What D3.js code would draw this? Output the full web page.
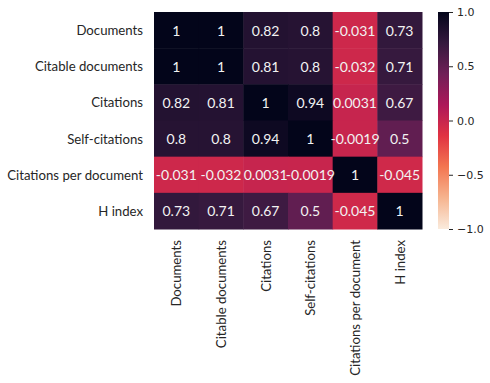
<!DOCTYPE html>
<html><head><meta charset="utf-8">
<script src="https://cdn.jsdelivr.net/npm/d3@7"></script>
<style>body{margin:0;background:#fff}</style>
</head><body>
<svg id="c" width="490" height="383"></svg>
<script>
const labels = ["Documents","Citable documents","Citations","Self-citations","Citations per document","H index"];
const annot = [
  ["1","1","0.82","0.8","-0.031","0.73"],
  ["1","1","0.81","0.8","-0.032","0.71"],
  ["0.82","0.81","1","0.94","0.0031","0.67"],
  ["0.8","0.8","0.94","1","-0.0019","0.5"],
  ["-0.031","-0.032","0.0031","-0.0019","1","-0.045"],
  ["0.73","0.71","0.67","0.5","-0.045","1"]
];
const values = annot.map(r => r.map(Number));
const cbarTicks = [1.0, 0.5, 0.0, -0.5, -1.0];
// rocket_r colour stops
const rocketStops = ["#faebdd","#f6b48f","#f37651","#e13342","#ad1759","#701f57","#35193e","#03051a"];
const stopPos = [0, 1/7, 2/7, 3/7, 4/7, 5/7, 6/7, 1];

const color = d3.scaleLinear().domain(stopPos.map(p => -1 + 2*p)).range(rocketStops).interpolate(d3.interpolateRgb).clamp(true);

const svg = d3.select("#c");
const L = 154, R = 422, T = 12, B = 229;
const x = d3.scaleBand().domain(d3.range(6)).range([L, R]);
const y = d3.scaleBand().domain(d3.range(6)).range([T, B]);
const font = "Lato, 'Open Sans', sans-serif";

const cells = [];
values.forEach((row,i)=>row.forEach((v,j)=>cells.push({i,j,v,t:annot[i][j]})));
svg.append("g").selectAll("rect").data(cells).join("rect")
  .attr("x", d=>x(d.j)).attr("y", d=>y(d.i))
  .attr("width", x.bandwidth()+0.5).attr("height", y.bandwidth()+0.5)
  .attr("fill", d=>color(d.v));
svg.append("g").selectAll("text").data(cells).join("text")
  .attr("x", d=>x(d.j)+x.bandwidth()/2).attr("y", d=>y(d.i)+y.bandwidth()/2)
  .attr("text-anchor","middle").attr("dominant-baseline","central")
  .attr("fill","#f2f2f2").style("font-family",font).style("font-size","14px")
  .text(d=>d.t);

// y labels
svg.append("g").selectAll("text").data(labels).join("text")
  .attr("x", L-11).attr("y", (d,i)=>y(i)+y.bandwidth()/2)
  .attr("text-anchor","end").attr("dominant-baseline","central")
  .attr("fill","#262626").style("font-family",font).style("font-size","13.2px")
  .text(d=>d);
// x labels
svg.append("g").selectAll("text").data(labels).join("text")
  .attr("transform",(d,i)=>`translate(${x(i)+x.bandwidth()/2},${B+11}) rotate(-90)`)
  .attr("text-anchor","end").attr("dominant-baseline","central")
  .attr("fill","#262626").style("font-family",font).style("font-size","13.2px")
  .text(d=>d);

// colorbar
const cx0 = 438, cx1 = 449;
const cy = d3.scaleLinear().domain([-1,1]).range([B, T]);
const defs = svg.append("defs");
const grad = defs.append("linearGradient").attr("id","g").attr("x1",0).attr("y1",1).attr("x2",0).attr("y2",0);
grad.selectAll("stop").data(stopPos).join("stop")
  .attr("offset",d=>d).attr("stop-color",(d,i)=>rocketStops[i]);
svg.append("rect").attr("x",cx0).attr("y",T).attr("width",cx1-cx0).attr("height",B-T).attr("fill","url(#g)");
const ax = svg.append("g").attr("transform",`translate(${cx1},0)`)
  .call(d3.axisRight(cy).tickValues(cbarTicks).tickSize(4).tickPadding(4).tickFormat(d=>d3.format(".1f")(d).replace("-","\u2212")));
ax.select(".domain").remove();
ax.selectAll("line").attr("stroke","#262626");
ax.selectAll("text").attr("fill","#262626").style("font-family","'DejaVu Sans', sans-serif").style("font-size","11px");
</script>
</body></html>
